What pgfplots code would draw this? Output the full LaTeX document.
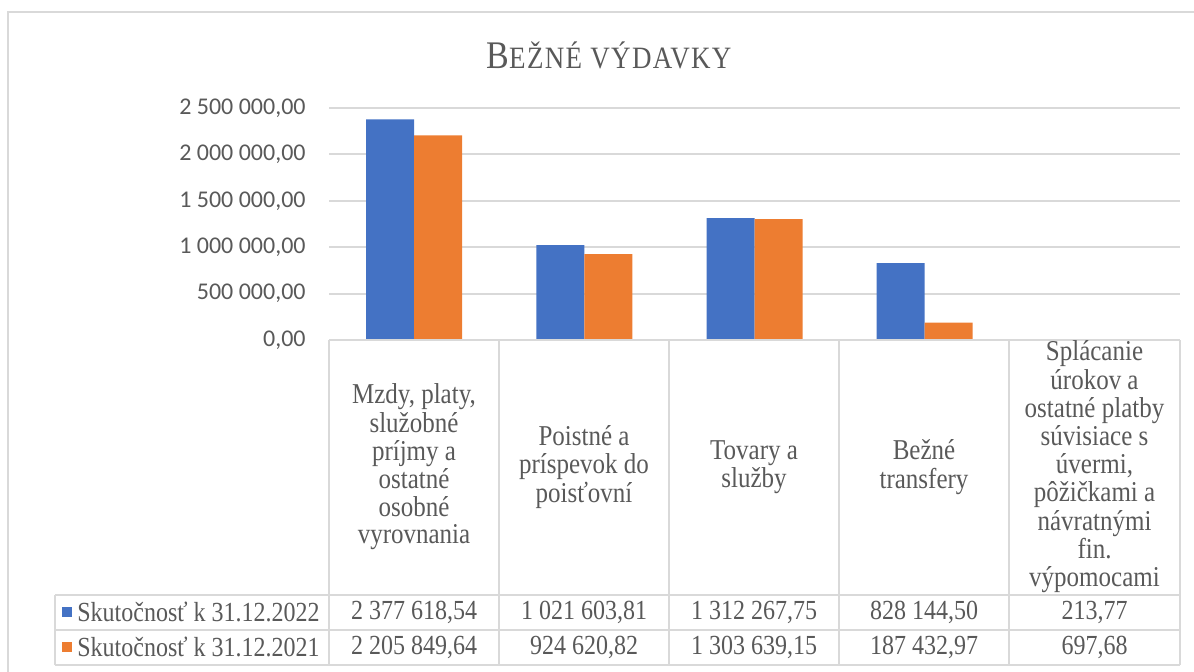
\documentclass[border=0pt]{standalone}
\usepackage{pgfplots}
\pgfplotsset{compat=1.18}
\usepackage{fontspec}
\usepackage{graphicx}
\setmainfont{Liberation Serif}
\newfontfamily\carlito{Carlito}
\definecolor{cblue}{HTML}{4472C4}
\definecolor{corange}{HTML}{ED7D31}
\definecolor{gridc}{HTML}{D9D9D9}
\definecolor{txt}{HTML}{595959}
\newcommand\vs[1]{\scalebox{1}[1.15]{#1}}
\newcommand\cell[1]{\vs{\fontsize{12.5pt}{11.9pt}\selectfont\begin{tabular}{@{}c@{}}#1\end{tabular}}}
\begin{document}
\begin{tikzpicture}[x=0.5pt,y=-0.5pt]
\useasboundingbox (0,0) rectangle (1194,671);
% outer chart border
\draw[gridc, line width=1pt] (8,690) -- (8,12) -- (1210,12);
% title
\node[anchor=base, text=txt, inner sep=0pt] at (609,68)
  {\vs{{\fontsize{17pt}{17pt}\selectfont B}{\fontsize{13.5pt}{13.5pt}\selectfont\addfontfeature{LetterSpace=5}EŽNÉ VÝDAVKY}}};
\coordinate (O) at (329,340);
\begin{axis}[
  at={(O)}, anchor=south west,
  width=425.5pt, height=116pt, scale only axis,
  xmin=0, xmax=5, ymin=0, ymax=2500000,
  xtick=\empty,
  scaled y ticks=false,
  ytick={0,500000,1000000,1500000,2000000,2500000},
  yticklabels={{0,00},{500 000,00},{1 000 000,00},{1 500 000,00},{2 000 000,00},{2 500 000,00}},
  yticklabel style={font=\carlito\fontsize{12pt}{14pt}\selectfont, text=txt, anchor=east, inner sep=0pt, xshift=-11.5pt},
  major tick length=0pt,
  axis line style={draw=none},
  ymajorgrids, grid style={gridc, line width=1pt},
  ybar, bar width=24pt,
  clip=false,
]
\addplot[fill=cblue, draw=none, bar shift=-12pt] coordinates {(0.5,2377618.54) (1.5,1021603.81) (2.5,1312267.75) (3.5,828144.50) (4.5,213.77)};
\addplot[fill=corange, draw=none, bar shift=12pt] coordinates {(0.5,2205849.64) (1.5,924620.82) (2.5,1303639.15) (3.5,187432.97) (4.5,697.68)};
\end{axis}
% data table
\begin{scope}[gridc, line width=1pt]
\draw (329,340) -- (1180,340);
\draw (55,595) -- (1180,595);
\draw (55,630) -- (1180,630);
\draw (55,665) -- (1180,665);
\draw (55,595) -- (55,665);
\foreach \xx in {329,499,669,839,1009,1180} {\draw (\xx,340) -- (\xx,665);}
\end{scope}
\begin{scope}[every node/.style={text=txt, inner sep=0pt}]
\node at (414,468) {\cell{Mzdy, platy,\\ služobné\\ príjmy a\\ ostatné\\ osobné\\ vyrovnania}};
\node at (584,468) {\cell{Poistné a\\ príspevok do\\ poisťovní}};
\node at (754,468) {\cell{Tovary a\\ služby}};
\node at (924,468) {\cell{Bežné\\ transfery}};
\node at (1094.5,468) {\cell{Splácanie\\ úrokov a\\ ostatné platby\\ súvisiace s\\ úvermi,\\ pôžičkami a\\ návratnými\\ fin.\\ výpomocami}};
\end{scope}
\begin{scope}[every node/.style={text=txt, font=\fontsize{12pt}{13.75pt}\selectfont, inner sep=0pt}]
\fill[cblue] (62,607) rectangle (72,617);
\fill[corange] (62,642) rectangle (72,652);
\node[anchor=west] at (77,612) {\vs{Skutočnosť k 31.12.2022}};
\node[anchor=west] at (77,647) {\vs{Skutočnosť k 31.12.2021}};
\node at (414,612) {\vs{2 377 618,54}};
\node at (584,612) {\vs{1 021 603,81}};
\node at (754,612) {\vs{1 312 267,75}};
\node at (924,612) {\vs{828 144,50}};
\node at (1094.5,612) {\vs{213,77}};
\node at (414,647) {\vs{2 205 849,64}};
\node at (584,647) {\vs{924 620,82}};
\node at (754,647) {\vs{1 303 639,15}};
\node at (924,647) {\vs{187 432,97}};
\node at (1094.5,647) {\vs{697,68}};
\end{scope}
\end{tikzpicture}
\end{document}
